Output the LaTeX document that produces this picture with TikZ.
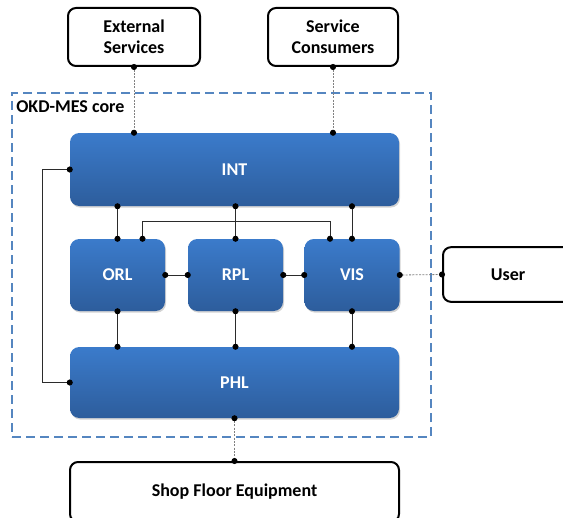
\documentclass[tikz,border=0pt]{standalone}
\usepackage{fontspec}
\setmainfont{Carlito}
\usetikzlibrary{arrows.meta, positioning, shadows}
\definecolor{mesblue}{HTML}{3B7BCB}
\definecolor{mesdark}{HTML}{2D5D9C}
\definecolor{coreline}{HTML}{5586C0}
\definecolor{linkgray}{HTML}{2B2B2B}

\begin{document}
\begin{tikzpicture}[
  x=0.75pt, y=-0.75pt,
  every node/.style={font=\fontsize{13.5}{16}\selectfont\bfseries},
  layer/.style={rectangle, rounded corners=7pt, top color=mesblue, bottom color=mesdark, text=white, minimum width=#1, minimum height=54pt, drop shadow={shadow xshift=0.8pt, shadow yshift=-1.2pt, opacity=0.35}},
  outside/.style={rectangle, rounded corners=6pt, draw=black, line width=1.5pt, fill=white, align=center, minimum width=#1, minimum height=43.5pt},
  link/.style={{Circle[length=4.5pt, color=black]}-{Circle[length=4.5pt, color=black]}, shorten <=-2.25pt, shorten >=-2.25pt, line width=0.6pt, draw=linkgray},
  extlink/.style={link, draw=gray, dash pattern=on 1.5pt off 1pt},
]
\useasboundingbox (0,0) rectangle (563,517);

% MES core frame
\node[draw=coreline, line width=1.7pt, dash pattern=on 6.5pt off 4pt, minimum width=314.25pt, minimum height=258pt] (core) at (221.5,265) {};
\node[anchor=west, inner sep=0pt] (corelabel) at (16,107) {OKD-MES core};

% Layers
\node[layer=246.75pt, minimum height=54.75pt] (int) at (234.5,169.5) {INT};
\node[layer=71.25pt] (orl) at (117.5,275) {ORL};
\node[layer=71.25pt] (rpl) at (235.5,275) {RPL};
\node[layer=71.25pt] (vis) at (352,275) {VIS};
\node[layer=246.75pt, minimum height=53.25pt] (phl) at (234.5,382.5) {PHL};

% Outside world
\node[outside=99pt] (ext) at (134,37) {External\\Services};
\node[outside=97.5pt] (cons) at (333,37) {Service\\Consumers};
\node[outside=97.5pt, minimum height=41pt] (user) at (508,274.5) {User};
\node[outside=246.75pt, minimum height=45pt] (shop) at (234.5,492) {Shop Floor Equipment};

% Internal links
\draw[link] (int.south -| orl) -- (orl.north);
\draw[link] (int.south -| rpl) -- (rpl.north);
\draw[link] (int.south -| vis) -- (vis.north);
\draw[link] ([shift={(25,0)}]orl.north) -- ++(0,-17) -| ([shift={(-22,0)}]vis.north);
\draw[link] (orl) -- (rpl);
\draw[link] (rpl) -- (vis);
\draw[link] (orl.south) -- (orl.south |- phl.north);
\draw[link] (rpl.south) -- (rpl.south |- phl.north);
\draw[link] (vis.south) -- (vis.south |- phl.north);
\draw[link] (int.west) -- ++(-27,0) |- (phl.west);

% External links
\draw[extlink] (ext.south) -- (ext.south |- int.north);
\draw[extlink] (cons.south) -- (cons.south |- int.north);
\draw[extlink] (vis.east) -- (user.west);
\draw[extlink] (phl.south) -- (shop.north);

\end{tikzpicture}
\end{document}
